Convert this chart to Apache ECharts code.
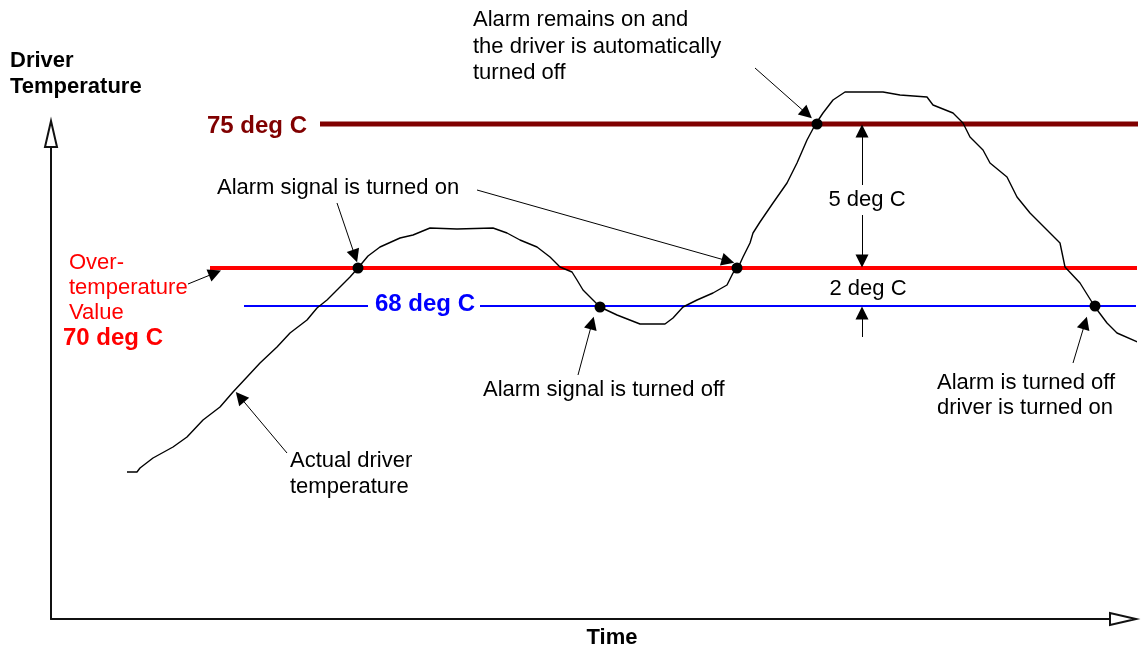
<!DOCTYPE html>
<html>
<head>
<meta charset="utf-8">
<script src="https://cdn.jsdelivr.net/npm/echarts@6/dist/echarts.min.js"></script>
<style>
  html, body { margin: 0; background: #fff; }
  #chart { width: 1142px; height: 649px; }
</style>
</head>
<body>
<div id="chart"></div>
<script>
// x = time, y = height above the time axis (sketch units)
const tempCurve = [
  [76,147],[86,147],[89,151],[102,161],[122,172],[136,182],[152,199],[169,212],[182,227],
  [196,242],[209,256],[226,272],[239,286],[256,299],[266,311],[276,319],[289,332],[299,342],
  [307,351],[317,363],[329,372],[349,381],[362,384],[379,391],[406,390],[442,391],[456,386],
  [469,379],[486,372],[499,362],[509,352],[521,347],[526,339],[532,329],[542,319],[549,312],
  [566,304],[589,295],[614,295],[622,301],[632,312],[646,319],[662,326],[676,334],[682,346],
  [687,351],[692,362],[699,376],[702,386],[709,397],[722,416],[736,436],[746,456],[756,479],
  [764,494],[772,506],[782,519],[794,527],[832,527],[849,524],[876,522],[882,514],[902,506],
  [912,496],[919,482],[932,469],[939,456],[956,442],[966,422],[979,406],[996,389],[1009,376],
  [1014,352],[1029,336],[1044,312],[1056,296],[1066,286],[1089,276]
];
const limit75 = [[269,495],[1091,495]];
const limit70 = [[159,351],[1087,351]];
const limit68a = [[193,313],[317,313]];
const limit68b = [[429,313],[1087,313]];
const crossDots = [[307,351],[549,312],[686,351],[766,495],[1044,313]];
const pointerArrows = [
  [[286,416],[304,363]],
  [[426,429],[677,358]],
  [[704,551],[756,505]],
  [[527,244],[541,296]],
  [[1022,256],[1034,296]],
  [[236,166],[189,222]],
  [[137,335],[164,346]]
];
const dimArrows = [
  [[811,434],[811,488]],
  [[811,404],[811,358]],
  [[811,282],[811,306]]
];

const FONT = '"Liberation Sans", Arial, sans-serif';
const chart = echarts.init(document.getElementById('chart'), null, { renderer: 'canvas' });

function txt(text, x, y, opts) {
  return {
    type: 'text', x: x, y: y, z: 100,
    style: Object.assign({
      text: text, fill: '#000', font: '22px ' + FONT,
      textAlign: 'left', textVerticalAlign: 'middle', lineHeight: 26
    }, opts || {})
  };
}

const axisLine = (sym) => ({
  show: true, symbol: ['none', 'emptyTriangle'], symbolSize: sym, symbolOffset: [0, -12],
  lineStyle: { color: '#111', width: 2 }
});

const opt = {
  animation: false,
  backgroundColor: '#fff',
  grid: { left: 51, top: 122, right: 7, bottom: 30 },
  xAxis: {
    type: 'value', min: 0, max: 1084,
    axisLine: axisLine([12, 26]), axisTick: { show: false },
    axisLabel: { show: false }, splitLine: { show: false }
  },
  yAxis: {
    type: 'value', min: 0, max: 497,
    axisLine: axisLine([12, 26]), axisTick: { show: false },
    axisLabel: { show: false }, splitLine: { show: false }
  },
  series: [
    { type: 'line', data: limit75, showSymbol: false, clip: false,
      lineStyle: { color: '#800000', width: 5 } },
    { type: 'line', data: limit70, showSymbol: false, clip: false,
      lineStyle: { color: '#ff0000', width: 4 } },
    { type: 'line', data: limit68a, showSymbol: false, clip: false,
      lineStyle: { color: '#0000ff', width: 2 } },
    { type: 'line', data: limit68b, showSymbol: false, clip: false,
      lineStyle: { color: '#0000ff', width: 2 } },
    { type: 'line', data: tempCurve, showSymbol: false, clip: false, z: 5,
      lineStyle: { color: '#000', width: 1.4 } },
    { type: 'scatter', data: crossDots, symbol: 'circle', symbolSize: 11, z: 6,
      itemStyle: { color: '#000', opacity: 1 }, clip: false },
    { type: 'lines', coordinateSystem: 'cartesian2d', clip: false, z: 7,
      symbol: ['none', 'triangle'], symbolSize: [8, 13],
      lineStyle: { color: '#000', width: 1, opacity: 1, curveness: 0 },
      data: pointerArrows.concat(dimArrows).map(c => ({ coords: c })) }
  ],
  graphic: [
    txt('Driver\nTemperature', 10, 48, { font: 'bold 22px ' + FONT, textVerticalAlign: 'top' }),
    txt('75 deg C', 207, 126, { font: 'bold 24px ' + FONT, fill: '#800000' }),
    txt('Over-\ntemperature\nValue', 69, 250, { fill: '#ff0000', textVerticalAlign: 'top', lineHeight: 25 }),
    txt('70 deg C', 63, 338, { font: 'bold 24px ' + FONT, fill: '#ff0000' }),
    txt('68 deg C', 375, 304, { font: 'bold 24px ' + FONT, fill: '#0000ff' }),
    txt('Alarm signal is turned on', 217, 188),
    txt('Alarm remains on and\nthe driver is automatically\nturned off', 473, 7, { textVerticalAlign: 'top', lineHeight: 26.5 }),
    txt('5 deg C', 867, 200, { textAlign: 'center' }),
    txt('2 deg C', 868, 289, { textAlign: 'center' }),
    txt('Alarm signal is turned off', 483, 390),
    txt('Actual driver\ntemperature', 290, 448, { textVerticalAlign: 'top' }),
    txt('Alarm is turned off\ndriver is turned on', 937, 370, { textVerticalAlign: 'top', lineHeight: 25 }),
    txt('Time', 612, 638, { font: 'bold 22px ' + FONT, textAlign: 'center' })
  ]
};
chart.setOption(opt, true);
</script>
</body>
</html>
